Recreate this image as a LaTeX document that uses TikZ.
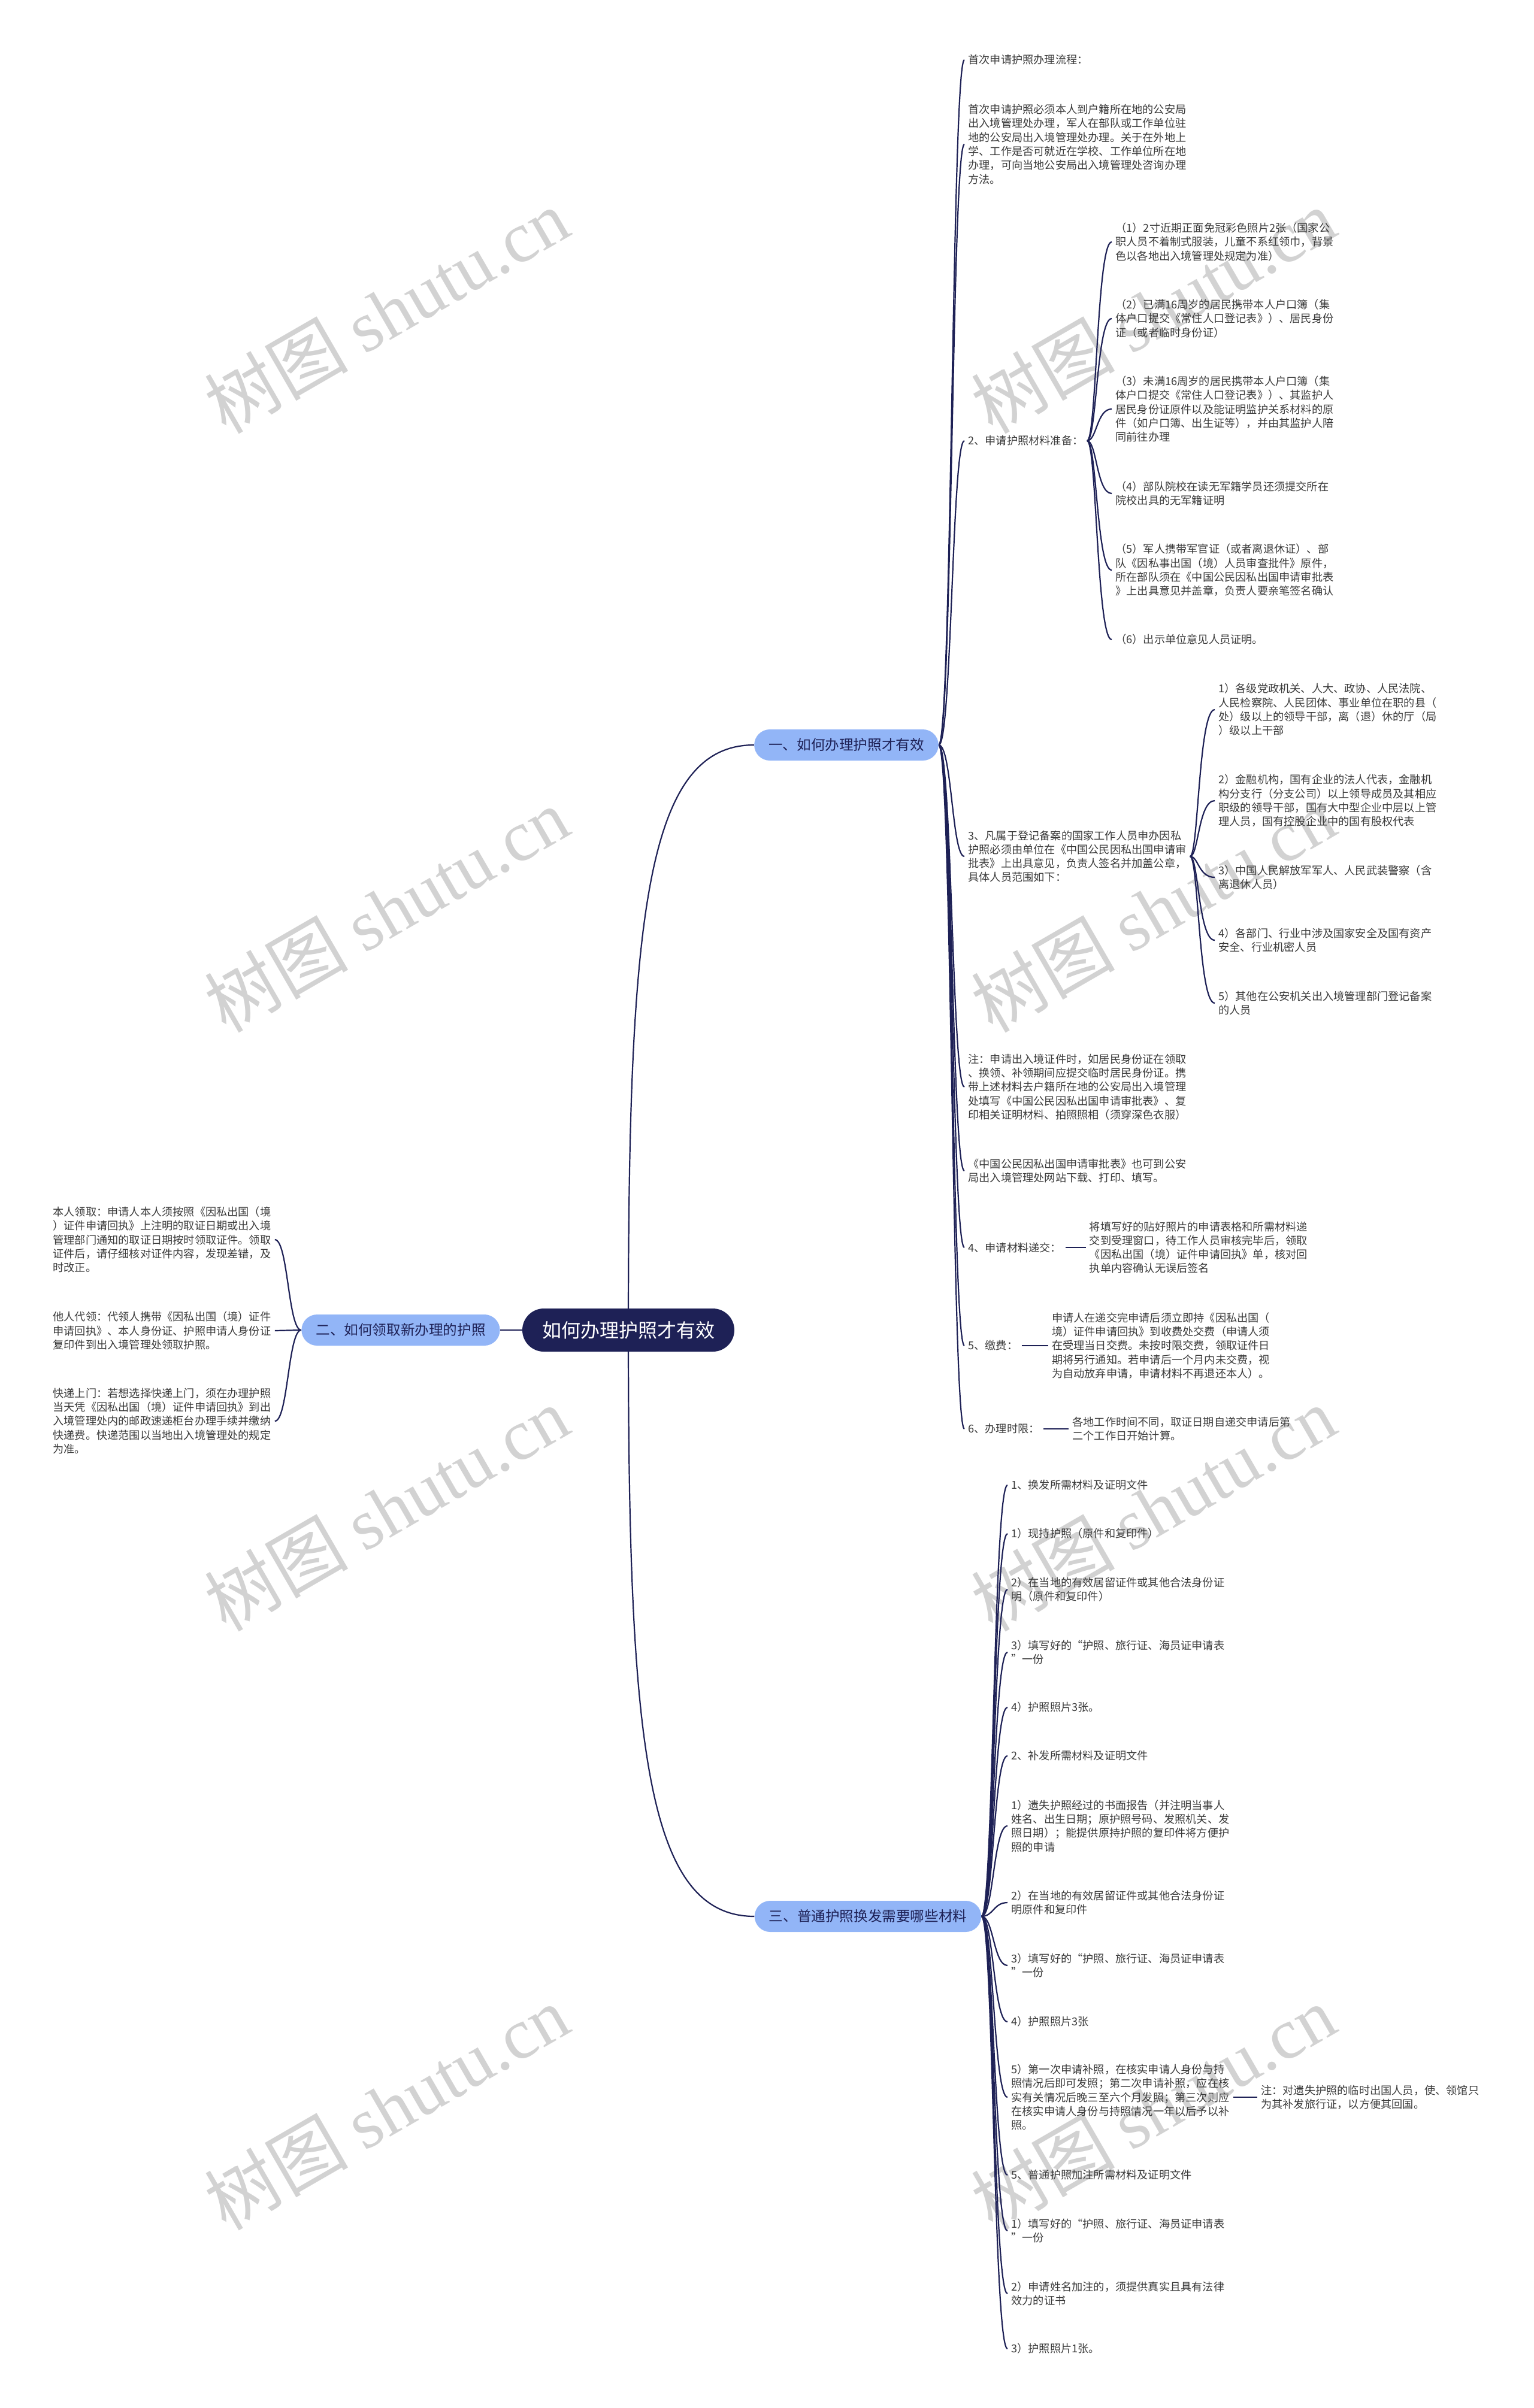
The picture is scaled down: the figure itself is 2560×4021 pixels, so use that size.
\documentclass[tikz,border=0pt]{standalone}
\usepackage{fontspec}
\setmainfont{Noto Sans CJK SC}
\newfontfamily\wmlatin{Liberation Serif}
\usetikzlibrary{calc,positioning,backgrounds}
\definecolor{navy}{HTML}{1E2156}
\definecolor{skyblue}{HTML}{92B5F7}
\definecolor{leafgray}{HTML}{3A3A3A}
\newcommand{\leaffont}{\fontsize{9.1pt}{11.65pt}\selectfont}

\begin{document}
\begin{tikzpicture}[x=0.5pt, y=-0.5pt,
    root/.style={fill=navy, text=white, rounded corners=18pt, minimum width=177pt,
                 minimum height=36pt, font=\fontsize{16pt}{18pt}\selectfont},
    branch/.style={fill=skyblue, text=navy, rounded corners=13pt, minimum height=26pt,
                   inner xsep=12pt, font=\fontsize{11.8pt}{14pt}\selectfont},
    leaf/.style={anchor=west, align=left, text=leafgray, inner xsep=3pt,
                 inner ysep=1pt, font=\leaffont},
    link/.style={draw=navy, line width=1.1pt},
    spine/.style={to path={.. controls ($(\tikztostart)+(#1,0)$)
                  and ($(\tikztostart |- \tikztotarget)+(#1,0)$) .. (\tikztotarget)}},
    trunk/.style={to path={.. controls ($(\tikztostart)!0.7!(\tikztostart |- \tikztotarget)$)
                  and ($(\tikztostart |- \tikztotarget)+(28,0)$) .. (\tikztotarget)}},
    wmark/.style={text=gray!35, rotate=30, font=\fontsize{60pt}{60pt}\selectfont}
  ]
    \useasboundingbox (0,0) rectangle (2560,4021);

    % centre and main branches
    \node[root] (root) at (1049,2221) {如何办理护照才有效};
    \node[branch] (b1) at (1413,1244) {一、如何办理护照才有效};
    \node[branch] (b2) at (669,2221) {二、如何领取新办理的护照};
    \node[branch] (b3) at (1449,3200) {三、普通护照换发需要哪些材料};

    % branch one
    \node[leaf] (yi1) at (1610,100) {首次申请护照办理流程：};
    \node[leaf] (yi2) at (1610,241) {首次申请护照必须本人到户籍所在地的公安局\\出入境管理处办理，军人在部队或工作单位驻\\地的公安局出入境管理处办理。关于在外地上\\学、工作是否可就近在学校、工作单位所在地\\办理，可向当地公安局出入境管理处咨询办理\\方法。};
    \node[leaf] (yi3) at (1610,736) {2、申请护照材料准备：};
    \node[leaf] (yi4) at (1610,1430) {3、凡属于登记备案的国家工作人员申办因私\\护照必须由单位在《中国公民因私出国申请审\\批表》上出具意见，负责人签名并加盖公章，\\具体人员范围如下：};
    \node[leaf] (yi5) at (1610,1815) {注：申请出入境证件时，如居民身份证在领取\\、换领、补领期间应提交临时居民身份证。携\\带上述材料去户籍所在地的公安局出入境管理\\处填写《中国公民因私出国申请审批表》、复\\印相关证明材料、拍照照相（须穿深色衣服）};
    \node[leaf] (yi6) at (1610,1955) {《中国公民因私出国申请审批表》也可到公安\\局出入境管理处网站下载、打印、填写。};
    \node[leaf] (yi7) at (1610,2083) {4、申请材料递交：};
    \node[leaf] (yi8) at (1610,2247) {5、缴费：};
    \node[leaf] (yi9) at (1610,2386) {6、办理时限：};

    \node[leaf] (cai1) at (1856,404) {（1）2寸近期正面免冠彩色照片2张（国家公\\职人员不着制式服装，儿童不系红领巾，背景\\色以各地出入境管理处规定为准）};
    \node[leaf] (cai2) at (1856,532) {（2）已满16周岁的居民携带本人户口簿（集\\体户口提交《常住人口登记表》）、居民身份\\证（或者临时身份证）};
    \node[leaf] (cai3) at (1856,683) {（3）未满16周岁的居民携带本人户口簿（集\\体户口提交《常住人口登记表》）、其监护人\\居民身份证原件以及能证明监护关系材料的原\\件（如户口簿、出生证等），并由其监护人陪\\同前往办理};
    \node[leaf] (cai4) at (1856,824) {（4）部队院校在读无军籍学员还须提交所在\\院校出具的无军籍证明};
    \node[leaf] (cai5) at (1856,952) {（5）军人携带军官证（或者离退休证）、部\\队《因私事出国（境）人员审查批件》原件，\\所在部队须在《中国公民因私出国申请审批表\\》上出具意见并盖章，负责人要亲笔签名确认};
    \node[leaf] (cai6) at (1856,1068) {（6）出示单位意见人员证明。};

    \node[leaf] (ren1) at (2028,1185) {1）各级党政机关、人大、政协、人民法院、\\人民检察院、人民团体、事业单位在职的县（\\处）级以上的领导干部，离（退）休的厅（局\\）级以上干部};
    \node[leaf] (ren2) at (2028,1337) {2）金融机构，国有企业的法人代表，金融机\\构分支行（分支公司）以上领导成员及其相应\\职级的领导干部，国有大中型企业中层以上管\\理人员，国有控股企业中的国有股权代表};
    \node[leaf] (ren3) at (2028,1465) {3）中国人民解放军军人、人民武装警察（含\\离退休人员）};
    \node[leaf] (ren4) at (2028,1570) {4）各部门、行业中涉及国家安全及国有资产\\安全、行业机密人员};
    \node[leaf] (ren5) at (2028,1675) {5）其他在公安机关出入境管理部门登记备案\\的人员};

    \node[leaf, right=17pt of yi7] (tj) {将填写好的贴好照片的申请表格和所需材料递\\交到受理窗口，待工作人员审核完毕后，领取\\《因私出国（境）证件申请回执》单，核对回\\执单内容确认无误后签名};
    \node[leaf, right=22pt of yi8] (jf) {申请人在递交完申请后须立即持《因私出国（\\境）证件申请回执》到收费处交费（申请人须\\在受理当日交费。未按时限交费，领取证件日\\期将另行通知。若申请后一个月内未交费，视\\为自动放弃申请，申请材料不再退还本人）。};
    \node[leaf, right=21pt of yi9] (sx) {各地工作时间不同，取证日期自递交申请后第\\二个工作日开始计算。};

    % branch two
    \node[leaf] (ling1) at (82,2070) {本人领取：申请人本人须按照《因私出国（境\\）证件申请回执》上注明的取证日期或出入境\\管理部门通知的取证日期按时领取证件。领取\\证件后，请仔细核对证件内容，发现差错，及\\时改正。};
    \node[leaf] (ling2) at (82,2222) {他人代领：代领人携带《因私出国（境）证件\\申请回执》、本人身份证、护照申请人身份证\\复印件到出入境管理处领取护照。};
    \node[leaf] (ling3) at (82,2373) {快递上门：若想选择快递上门，须在办理护照\\当天凭《因私出国（境）证件申请回执》到出\\入境管理处内的邮政速递柜台办理手续并缴纳\\快递费。快递范围以当地出入境管理处的规定\\为准。};

    % branch three
    \node[leaf] (san1) at (1682,2480) {1、换发所需材料及证明文件};
    \node[leaf] (san2) at (1682,2561) {1）现持护照（原件和复印件）};
    \node[leaf] (san3) at (1682,2654) {2）在当地的有效居留证件或其他合法身份证\\明（原件和复印件）};
    \node[leaf] (san4) at (1682,2759) {3）填写好的“护照、旅行证、海员证申请表\\”一份};
    \node[leaf] (san5) at (1682,2851) {4）护照照片3张。};
    \node[leaf] (san6) at (1682,2932) {2、补发所需材料及证明文件};
    \node[leaf] (san7) at (1682,3049) {1）遗失护照经过的书面报告（并注明当事人\\姓名、出生日期；原护照号码、发照机关、发\\照日期）；能提供原持护照的复印件将方便护\\照的申请};
    \node[leaf] (san8) at (1682,3177) {2）在当地的有效居留证件或其他合法身份证\\明原件和复印件};
    \node[leaf] (san9) at (1682,3282) {3）填写好的“护照、旅行证、海员证申请表\\”一份};
    \node[leaf] (san10) at (1682,3376) {4）护照照片3张};
    \node[leaf] (san11) at (1682,3502) {5）第一次申请补照，在核实申请人身份与持\\照情况后即可发照；第二次申请补照，应在核\\实有关情况后晚三至六个月发照；第三次则应\\在核实申请人身份与持照情况一年以后予以补\\照。};
    \node[leaf] (san12) at (1682,3632) {5、普通护照加注所需材料及证明文件};
    \node[leaf] (san13) at (1682,3725) {1）填写好的“护照、旅行证、海员证申请表\\”一份};
    \node[leaf] (san14) at (1682,3830) {2）申请姓名加注的，须提供真实且具有法律\\效力的证书};
    \node[leaf] (san15) at (1682,3922) {3）护照照片1张。};
    \node[leaf, right=20pt of san11] (zhu) {注：对遗失护照的临时出国人员，使、领馆只\\为其补发旅行证，以方便其回国。};

    \begin{scope}[on background layer]
      \fill[white] (0,0) rectangle (2560,4021);
      % watermark
      \foreach \wy in {519,1519,2519,3519} {
        \node[wmark] (wmL\wy) at (645,\wy) {树图 {\wmlatin shutu.cn}};
        \node[wmark] (wmR\wy) at (1925,\wy) {树图 {\wmlatin shutu.cn}};
      }
      % connectors
      \draw[link] (root.center) to[trunk] (b1.west);
      \draw[link] (root.center) to[trunk] (b3.west);
      \draw[link] (root.west) -- (b2.east);
      \foreach \k in {1,...,9} \draw[link] (b1.east) to[spine=22] (yi\k.west);
      \foreach \k in {1,...,6} \draw[link] (yi3.east) to[spine=16] (cai\k.west);
      \foreach \k in {1,...,5} \draw[link] (yi4.east) to[spine=14] (ren\k.west);
      \draw[link] (yi7.east) -- (tj.west);
      \draw[link] (yi8.east) -- (jf.west);
      \draw[link] (yi9.east) -- (sx.west);
      \foreach \k in {1,2,3} \draw[link] (b2.west) to[spine=-22] (ling\k.east);
      \foreach \k in {1,...,15} \draw[link] (b3.east) to[spine=20] (san\k.west);
      \draw[link] (san11.east) -- (zhu.west);
    \end{scope}
  \end{tikzpicture}
\end{document}
